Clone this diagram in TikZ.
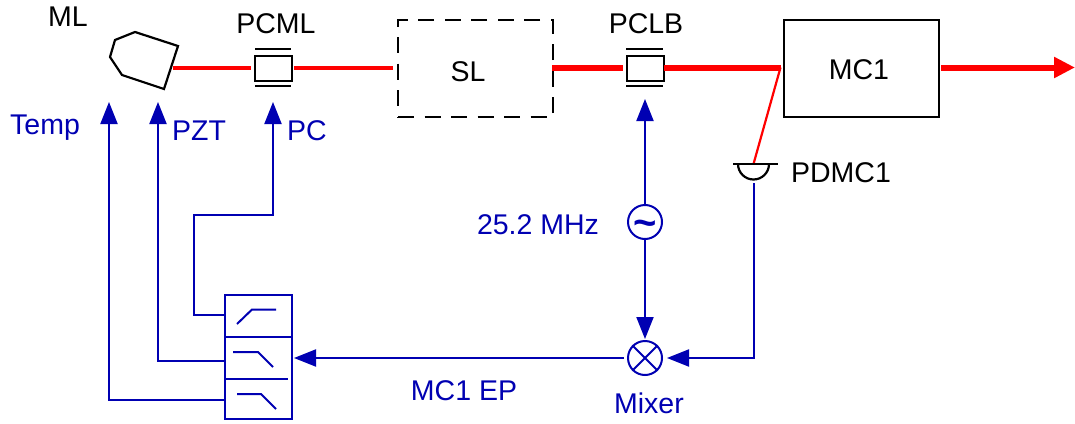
\documentclass[tikz,border=0pt]{standalone}
\usepackage{fontspec}
\setmainfont{Liberation Sans}
\usetikzlibrary{arrows.meta}
\definecolor{bl}{RGB}{0,0,178}
\definecolor{rd}{RGB}{255,0,0}
\tikzset{
  x=1pt,y=-1pt,
  lbl/.style={inner sep=0pt,font=\fontsize{28.5}{28.5}\selectfont,text=black},
  blbl/.style={lbl,text=bl},
  blk/.style={draw=black,line width=2.2pt,fill=white,inner sep=0pt,minimum width=0pt},
  bline/.style={draw=bl,line width=2pt},
  rthin/.style={draw=rd,line width=4pt},
  rthick/.style={draw=rd,line width=6pt},
  barr/.style={bline,-{Triangle[length=22pt,width=17pt,fill=bl]}},
  circ/.style={circle,draw=bl,line width=2pt,minimum size=34pt,inner sep=0pt},
  plate/.style={draw=black,line width=2.2pt},
  glyph/.style={draw=bl,line width=2pt},
}
\newcommand{\rectnode}[6]{\node[#1,minimum width=#4pt,minimum height=#5pt,anchor=north west] (#6) at (#2,#3) {};}
\begin{document}
\begin{tikzpicture}
\useasboundingbox (0,0) rectangle (1075,423);
% texts
\node[lbl] (tML) at (68,17) {ML};
\node[lbl] (tPCML) at (276,24) {PCML};
\node[lbl] (tPCLB) at (646,24) {PCLB};
\node[blbl] (tTemp) at (45,128) {Temp};
\node[blbl] (tPZT) at (199,131) {PZT};
\node[blbl] (tPC) at (307,131) {PC};
\node[blbl] (tMHz) at (538,225) {25.2 MHz};
\node[blbl] (tEP) at (464,391) {MC1 EP};
\node[blbl] (tMix) at (649,403) {Mixer};
\node[lbl] (tPD) at (841,173) {PDMC1};
% laser
\draw[black,line width=2.2pt,line join=miter] (115,40) -- (135,32) -- (178,46) -- (164,89) -- (122,75) -- (110,57) -- cycle;
\coordinate (mlout) at (173,67.5);
% modulators
\rectnode{blk}{254}{55}{37}{25}{pcml}
\rectnode{blk}{626}{55}{37}{25}{pclb}
\draw[plate] (255,49) -- (291,49) (255,86) -- (291,86);
\draw[plate] (626,49) -- (663,49) (626,86) -- (663,86);
% SL
\node[draw=black,line width=2pt,dash pattern=on 16pt off 10.5pt,minimum width=155pt,minimum height=97pt,inner sep=0pt,anchor=north west] (sl) at (397,19) {};
\node[lbl] (tSL) at (468,72) {SL};
% MC1
\node[blk,minimum width=155pt,minimum height=97pt,anchor=north west] (mc) at (783,19) {};
\node[lbl] (tMC) at (859,70) {MC1};
% red beams
\coordinate (pcmlL) at (251,67.5);
\coordinate (pcmlR) at (294,67.5);
\coordinate (slL) at (393,67.5);
\coordinate (slR) at (552,67.5);
\coordinate (pclbL) at (623,67.5);
\coordinate (pclbR) at (664,67.5);
\coordinate (bs) at (780.5,67.5);
\coordinate (out) at (941,67.5);
\coordinate (end) at (1075,67.5);
\coordinate (pdtop) at (753.5,164);
\draw[rthin] (mlout) -- (pcmlL);
\draw[rthin] (pcmlR) -- (slL);
\draw[rthick] (slR) -- (pclbL);
\draw[rthick] (pclbR) -- (bs);
\draw[draw=rd,line width=2.2pt] (bs) -- (pdtop);
\draw[rthick,-{Triangle[length=21pt,width=20pt,fill=rd]}] (out) -- (end);
% photodiode
\draw[plate] (733,164) -- (778,164);
\draw[black,line width=2.2pt] (738,164) arc[start angle=180,end angle=0,radius=15.5];
\coordinate (pdbot) at (753.5,183);
% circles
\node[circ] (osc) at (645,222) {};
\node[blbl,font=\fontsize{40}{40}\selectfont\bfseries] (tilde) at (645,228) {\char126};
\node[circ] (mix) at (645,358) {};
\draw[glyph] (mix.45) -- (mix.225) (mix.135) -- (mix.315);
% filter
\node[draw=bl,line width=2pt,minimum width=67pt,minimum height=124pt,inner sep=0pt,anchor=north west] (filt) at (224,294) {};
\coordinate (d1a) at (224,337); \coordinate (d1b) at (291,337);
\coordinate (d2a) at (224,379); \coordinate (d2b) at (288,379);
\draw[bline] (d1a) -- (d1b) (d2a) -- (d2b);
\draw[glyph] (237,324) -- (252,309.5) -- (276,309.5);
\draw[glyph] (233,352) -- (258,352) -- (273,367);
\draw[glyph] (237,394) -- (261,394) -- (276,409);
% blue connectors
\coordinate (tipfilt) at (294,358);
\coordinate (mixL) at (624,358);
\coordinate (tipmixR) at (667,358);
\coordinate (pdcorner) at (753.5,358);
\coordinate (tipmixT) at (645,339);
\coordinate (tippclb) at (645,99);
\coordinate (f1) at (224,315);
\coordinate (f2) at (224,361);
\coordinate (f3) at (224,400);
\coordinate (tippc) at (273,102);
\coordinate (tippzt) at (158,102);
\coordinate (tiptemp) at (109,102);
\draw[barr] (mixL) -- (tipfilt);
\draw[barr] (pdbot) -- (pdcorner) -- (tipmixR);
\draw[barr] (osc.south) -- (tipmixT);
\draw[barr] (osc.north) -- (tippclb);
\draw[barr] (f1) -- (194,315) -- (194,215) -- (273,215) -- (tippc);
\draw[barr] (f2) -- (158,361) -- (tippzt);
\draw[barr] (f3) -- (109,400) -- (tiptemp);
\end{tikzpicture}
\end{document}
